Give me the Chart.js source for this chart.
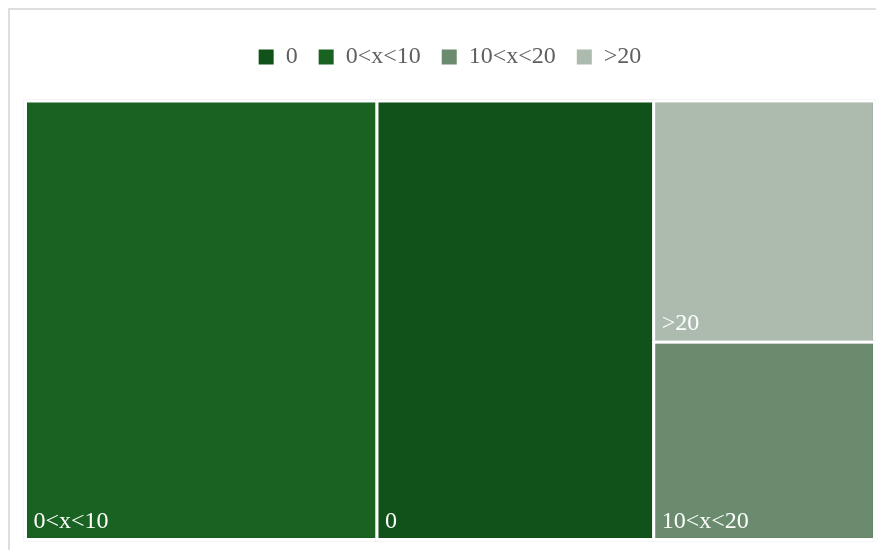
<!DOCTYPE html>
<html>
<head>
<meta charset="utf-8">
<script src="https://cdn.jsdelivr.net/npm/chart.js@4.4.1/dist/chart.umd.min.js"></script>
<style>
  body { margin: 0; background: #fff; overflow: hidden; }
  #frame { position: absolute; left: 8px; top: 8px; width: 900px; height: 600px; border: 2px solid #dedede; box-sizing: border-box; }
  #wrap { position: absolute; left: 0; top: 0; width: 876px; height: 550px; }
</style>
</head>
<body>
<div id="frame"></div>
<div id="wrap"><canvas id="treeChart"></canvas></div>
<script>
// treemap data (share of total)
const categories = ["0", "0<x<10", "10<x<20", ">20"];
const shares = [32.6, 41.4, 11.7, 14.3];
const colors = ["#11521b", "#196221", "#6a8b6d", "#adbbaf"];

// worst aspect ratio of a row laid along a side
function worst(row, side) {
  const s = row.reduce((a, r) => a + r.area, 0);
  let m = 0;
  row.forEach((r) => {
    m = Math.max(m, (side * side * r.area) / (s * s), (s * s) / (side * side * r.area));
  });
  return m;
}

// squarified layout, in units where the plot is w x h
function squarify(items, x, y, w, h) {
  const out = [];
  let rest = items.slice();
  while (rest.length) {
    const side = Math.min(w, h);
    let row = [rest[0]];
    let i = 1;
    while (i < rest.length && worst(row.concat(rest[i]), side) <= worst(row, side)) {
      row.push(rest[i]);
      i++;
    }
    rest = rest.slice(i);
    const sum = row.reduce((a, r) => a + r.area, 0);
    if (w >= h) {
      const cw = sum / h;
      let cy = y;
      row.forEach((r) => {
        const rh = r.area / cw;
        out.push({ ...r, x: x, y: cy, w: cw, h: rh });
        cy += rh;
      });
      x += cw;
      w -= cw;
    } else {
      const rh = sum / w;
      let cx = x;
      row.forEach((r) => {
        const rw = r.area / rh;
        out.push({ ...r, x: cx, y: y, w: rw, h: rh });
        cx += rw;
      });
      y += rh;
      h -= rh;
    }
  }
  return out;
}

// extra room under the legend
const legendGap = {
  id: "legendGap",
  beforeInit(chart) {
    const origFit = chart.legend.fit;
    chart.legend.fit = function () {
      origFit.bind(chart.legend)();
      this.height += 22;
    };
  },
};

const treemapPlugin = {
  id: "treemap",
  beforeDatasetsDraw(chart) {
    const { ctx, chartArea, scales } = chart;
    const W = chartArea.width / chartArea.height; // plot aspect
    const total = shares.reduce((a, b) => a + b, 0);
    const items = categories
      .map((c, i) => ({ label: c, color: colors[i], area: (shares[i] / total) * W }))
      .sort((a, b) => b.area - a.area);
    const rects = squarify(items, 0, 0, W, 1);

    ctx.save();
    rects.forEach((r) => {
      const x0 = scales.x.getPixelForValue(r.x / W);
      const x1 = scales.x.getPixelForValue((r.x + r.w) / W);
      const y0 = scales.y.getPixelForValue(r.y);
      const y1 = scales.y.getPixelForValue(r.y + r.h);
      ctx.fillStyle = r.color;
      ctx.fillRect(x0, y0, x1 - x0, y1 - y0);
      ctx.strokeStyle = "rgba(0,0,0,0.08)";
      ctx.lineWidth = 4;
      ctx.strokeRect(x0, y0, x1 - x0, y1 - y0);
      ctx.strokeStyle = "#ffffff";
      ctx.lineWidth = 3;
      ctx.strokeRect(x0, y0, x1 - x0, y1 - y0);

      ctx.fillStyle = "#ffffff";
      ctx.font = "24px 'Liberation Serif', 'Times New Roman', serif";
      ctx.textAlign = "left";
      ctx.textBaseline = "alphabetic";
      ctx.fillText(r.label, x0 + 8, y1 - 12);
    });
    ctx.restore();
  },
};

const ctx = document.getElementById("treeChart").getContext("2d");
const treeChart = new Chart(ctx, {
  type: "scatter",
  data: {
    datasets: categories.map((c, i) => ({
      label: c,
      data: [],
      backgroundColor: colors[i],
      borderColor: colors[i],
      borderWidth: 0,
    })),
  },
  options: {
    responsive: true,
    maintainAspectRatio: false,
    animation: false,
    layout: { padding: { top: 24, left: 25.5, right: 1.5, bottom: 10.5 } },
    scales: {
      x: { type: "linear", min: 0, max: 1, display: false },
      y: { type: "linear", min: 0, max: 1, reverse: true, display: false },
    },
    plugins: {
      tooltip: { enabled: false },
      legend: {
        position: "top",
        onClick: null,
        labels: {
          boxWidth: 15,
          boxHeight: 15,
          padding: 21,
          color: "#5f5f5f",
          font: { family: "'Liberation Serif', 'Times New Roman', serif", size: 24 },
        },
      },
    },
  },
  plugins: [legendGap, treemapPlugin],
});
</script>
</body>
</html>
